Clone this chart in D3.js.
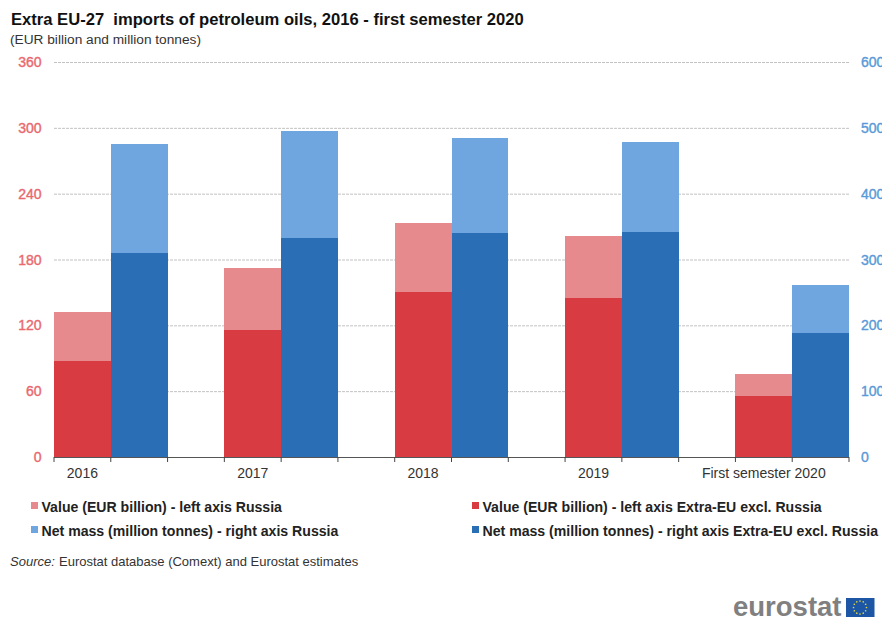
<!DOCTYPE html>
<html><head><meta charset="utf-8">
<script src="https://cdn.jsdelivr.net/npm/d3@7/dist/d3.min.js"></script>
<style>
html,body{margin:0;padding:0;background:#fff;overflow:hidden}
svg{display:block;font-family:"Liberation Sans",Arial,sans-serif}
</style></head><body><svg id="c" width="882" height="617"></svg>
<script>
const categories=["2016","2017","2018","2019","First semester 2020"];
const valueExclRussia=[87.5,116,150.5,145,55.5];
const valueRussia=[45,56,63,56,20];
const massExclRussia=[310,333,341,342,189];
const massRussia=[166,162,144,137,72];
const leftTicks=[0,60,120,180,240,300,360];
const rightTicks=[0,100,200,300,400,500,600];
const legendLabels=["Value (EUR billion) - left axis Russia","Value (EUR billion) - left axis Extra-EU excl. Russia","Net mass (million tonnes) - right axis Russia","Net mass (million tonnes) - right axis Extra-EU excl. Russia"];
const colors={vR:"#e68a8e",vE:"#d83b41",mR:"#70a6e0",mE:"#2a6fb5"};
const legendColors=[colors.vR,colors.vE,colors.mR,colors.mE];

const svg=d3.select("#c");
const L=54,R=849,T=62,B=457;
const slot=(R-L)/14;
const x0=d3.scaleBand().domain(categories).range([L,R+slot]);
const x1=d3.scaleBand().domain(["value","mass","gap"]).range([0,x0.bandwidth()]);
const yL=d3.scaleLinear().domain([0,360]).range([B,T]);
const yR=d3.scaleLinear().domain([0,600]).range([B,T]);

// title
svg.append("text").attr("x",11).attr("y",24.5).attr("font-size",16.6).attr("font-weight","bold").attr("fill","#111").attr("xml:space","preserve").style("white-space","pre").text("Extra EU-27  imports of petroleum oils, 2016 - first semester 2020");
svg.append("text").attr("x",10).attr("y",44).attr("font-size",13.7).attr("fill","#333").text("(EUR billion and million tonnes)");

// gridlines
svg.append("g").selectAll("line").data(leftTicks.filter(d=>d>0)).join("line")
 .attr("x1",L).attr("x2",R+1).attr("y1",d=>yL(d)+.5).attr("y2",d=>yL(d)+.5)
 .attr("stroke","#c2c2c2").attr("stroke-width",1).attr("stroke-dasharray","3 1");

// bars
const stacks=[
 {k:"value",y:yL,base:valueExclRussia,top:valueRussia,cb:colors.vE,ct:colors.vR},
 {k:"mass",y:yR,base:massExclRussia,top:massRussia,cb:colors.mE,ct:colors.mR}];
stacks.forEach(s=>{
 const g=svg.append("g").attr("shape-rendering","crispEdges");
 const bx=d=>x0(d)+x1(s.k);
 g.selectAll(".b").data(categories).join("rect").attr("class","b")
  .attr("x",bx).attr("width",x1.bandwidth())
  .attr("y",(d,i)=>s.y(s.base[i])).attr("height",(d,i)=>B-s.y(s.base[i])).attr("fill",s.cb);
 g.selectAll(".t").data(categories).join("rect").attr("class","t")
  .attr("x",bx).attr("width",x1.bandwidth())
  .attr("y",(d,i)=>s.y(s.base[i]+s.top[i])).attr("height",(d,i)=>s.y(s.base[i])-s.y(s.base[i]+s.top[i])).attr("fill",s.ct);
});

// x axis baseline and ticks
const ax=svg.append("g");
const tickPos=d3.range(15).map(i=>L+i*slot);
ax.append("line").attr("x1",L).attr("x2",R).attr("y1",B+.5).attr("y2",B+.5).attr("stroke","#555");
ax.selectAll(".tk").data(tickPos).join("line").attr("class","tk")
 .attr("x1",d=>d).attr("x2",d=>d).attr("y1",B).attr("y2",B+5).attr("stroke","#444");
ax.selectAll("text").data(categories).join("text")
 .attr("x",d=>x0(d)+x1("value")+x1.bandwidth()/2).attr("y",478).attr("text-anchor","middle")
 .attr("font-size",14).attr("fill","#333").text(d=>d);

// y axes
svg.append("g").selectAll("text").data(leftTicks).join("text")
 .attr("x",41.5).attr("y",d=>yL(d)+5).attr("text-anchor","end").attr("font-size",14).attr("fill","#e9696f").attr("stroke","#e9696f").attr("stroke-width",.4).text(d=>d);
svg.append("g").selectAll("text").data(rightTicks).join("text")
 .attr("x",861).attr("y",d=>yR(d)+5).attr("text-anchor","start").attr("font-size",14).attr("fill","#5a9ad8").attr("stroke","#5a9ad8").attr("stroke-width",.4).text(d=>d);

// legend
const lx=[31,472],ly=[507,531];
const lg=svg.append("g").selectAll("g").data(legendLabels).join("g")
 .attr("transform",(d,i)=>`translate(${lx[i%2]},${ly[Math.floor(i/2)]})`);
lg.append("rect").attr("x",0).attr("y",-5).attr("width",7).attr("height",7).attr("fill",(d,i)=>legendColors[i]);
lg.append("text").attr("x",10.5).attr("y",4.5).attr("font-size",14.1).attr("font-weight","bold").attr("fill","#222").text(d=>d);

// source
const src=svg.append("text").attr("x",10).attr("y",566).attr("font-size",13).attr("fill","#333");
src.append("tspan").attr("font-style","italic").text("Source:");
src.append("tspan").attr("x",59).text("Eurostat database (Comext) and Eurostat estimates");

// logo
svg.append("text").attr("x",733).attr("y",615.5).attr("font-size",27.5).attr("font-weight","bold").attr("fill","#808080").text("eurostat");
svg.append("rect").attr("x",846).attr("y",598).attr("width",28.5).attr("height",19).attr("fill","#1c56a4");
const stars=d3.range(12).map(i=>i*Math.PI/6);
svg.append("g").selectAll("circle").data(stars).join("circle")
 .attr("cx",d=>860+6.5*Math.cos(d)).attr("cy",d=>607.5+6.5*Math.sin(d)).attr("r",.85).attr("fill","#d6cf4a");
</script></body></html>
